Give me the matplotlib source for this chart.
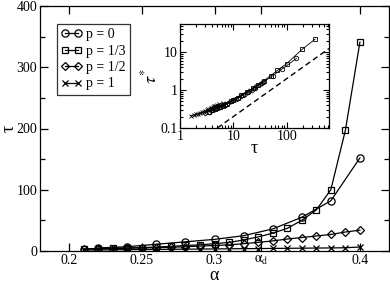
import matplotlib
matplotlib.use("Agg")
import matplotlib.pyplot as plt
from matplotlib.ticker import FixedLocator, MultipleLocator, LogLocator, NullFormatter

plt.rcParams['font.family'] = ['Liberation Serif', 'DejaVu Serif']
plt.rcParams['mathtext.fontset'] = 'stix'

# ---- main data ----
alpha_all = [0.21, 0.22, 0.23, 0.24, 0.25, 0.26, 0.27, 0.28, 0.29, 0.30,
             0.31, 0.32, 0.33, 0.34, 0.35, 0.36, 0.37, 0.38, 0.39, 0.40]
alpha_even = [0.22, 0.24, 0.26, 0.28, 0.30, 0.32, 0.34, 0.36, 0.38, 0.40]

tau_p0 = [5, 7, 11, 15, 19, 25, 36, 55, 82, 152]
tau_p13 = [3.5, 4, 4.5, 5, 5.5, 6.5, 7.5, 9, 10, 12, 14, 18, 23, 29, 37, 50, 67, 100, 197, 341]
tau_p12 = [3, 3.5, 4, 4.5, 5, 5.5, 6, 7, 8, 9, 10, 12, 14, 16.5, 19.5, 22, 24.5, 27, 31, 34]
tau_p1 = [1.6, 1.8, 2.0, 2.2, 2.4, 2.6, 2.8, 3.0, 3.2, 3.4, 3.6, 3.8, 4.0, 4.2, 4.4, 4.6, 4.8, 5.0, 5.3, 6.5]

# ---- inset data (tau* vs tau) ----
tstar_p0 = [0.33, 0.40, 0.58, 0.75, 0.9, 1.15, 1.6, 2.4, 3.6, 6.8]
tstar_p13 = [0.27, 0.29, 0.31, 0.33, 0.35, 0.39, 0.43, 0.5, 0.55, 0.63, 0.72, 0.88, 1.1, 1.35, 1.75, 2.4, 3.3, 5.0, 12.0, 22.0]
tstar_p12 = [0.25, 0.27, 0.29, 0.31, 0.33, 0.35, 0.37, 0.41, 0.45, 0.5, 0.54, 0.62, 0.71, 0.81, 0.93, 1.03, 1.13, 1.25, 1.42, 1.55]
tstar_p1 = [0.21, 0.22, 0.23, 0.24, 0.25, 0.26, 0.27, 0.28, 0.295, 0.31, 0.32, 0.33, 0.345, 0.36, 0.37, 0.38, 0.39, 0.40, 0.42, 0.45]
dash_tau = [5.0, 620.0]
dash_tstar = [0.1, 12.4]

labels = ['p = 0', 'p = 1/3', 'p = 1/2', 'p = 1']
xticks = [0.2, 0.25, 0.3, 0.332, 0.4]
xticklabels = ['0.2', '0.25', '0.3', r'$\mathrm{\alpha_d}$', '0.4']

W, H = 390, 283
fig = plt.figure(figsize=(W / 100, H / 100), dpi=100)

def ax_rect(l, t, r, b):
    return [l / W, 1 - b / H, (r - l) / W, (b - t) / H]

ax = fig.add_axes(ax_rect(40, 6, 389, 251))
lw = 0.9
mk = dict(markerfacecolor='none', markeredgecolor='black', color='black', linewidth=lw, markeredgewidth=0.9)
ax.plot(alpha_even, tau_p0, marker='o', markersize=5.2, label=labels[0], **mk)
ax.plot(alpha_all, tau_p13, marker='s', markersize=4.6, label=labels[1], **mk)
ax.plot(alpha_all, tau_p12, marker='D', markersize=4.0, label=labels[2], **mk)
ax.plot(alpha_all, tau_p1, marker='x', markersize=4.0, label=labels[3], **mk)

ax.set_xlim(0.18, 0.42)
ax.set_ylim(0, 400)
ax.xaxis.set_major_locator(FixedLocator(xticks))
ax.set_xticklabels(xticklabels)
ax.yaxis.set_major_locator(MultipleLocator(100))
ax.yaxis.set_minor_locator(MultipleLocator(50))
ax.tick_params(which='both', direction='in', top=True, right=True, labelsize=10, width=0.9)
ax.tick_params(which='major', length=6, pad=2)
ax.tick_params(which='minor', length=3.5)
for s in ax.spines.values():
    s.set_linewidth(0.9)
ax.set_xlabel('α', fontsize=13, labelpad=0)
ax.set_ylabel('τ', fontsize=13, va='center')
ax.yaxis.set_label_coords(-0.088, 0.5)

leg = ax.legend(loc='upper left', bbox_to_anchor=(0.049, 0.927), borderaxespad=0,
                numpoints=2, handlelength=1.5, handletextpad=0.3, labelspacing=0.25,
                fontsize=10, frameon=True, fancybox=False, borderpad=0.3)
leg.get_frame().set_edgecolor('black')
leg.get_frame().set_linewidth(0.9)

# ---- inset ----
ins = fig.add_axes(ax_rect(180, 24, 329, 128))
mi = dict(markerfacecolor='none', markeredgecolor='black', color='black', linewidth=0.6, markeredgewidth=0.6)
ins.plot(tau_p0, tstar_p0, marker='o', markersize=3.2, **mi)
ins.plot(tau_p13, tstar_p13, marker='s', markersize=2.8, **mi)
ins.plot(tau_p12, tstar_p12, marker='D', markersize=2.6, **mi)
ins.plot(tau_p1, tstar_p1, marker='x', markersize=2.8, **mi)
ins.plot(dash_tau, dash_tstar, color='black', linestyle=(0, (4, 2.5)), linewidth=1.0)
ins.set_xscale('log')
ins.set_yscale('log')
ins.set_xlim(1, 620)
ins.set_ylim(0.1, 55)
ins.set_xticks([1, 10, 100])
ins.set_xticklabels(['1', '10', '100'])
ins.set_yticks([0.1, 1, 10])
ins.set_yticklabels(['0.1', '1', '10'])
ins.xaxis.set_minor_locator(LogLocator(base=10, subs=range(2, 10)))
ins.yaxis.set_minor_locator(LogLocator(base=10, subs=range(2, 10)))
ins.xaxis.set_minor_formatter(NullFormatter())
ins.yaxis.set_minor_formatter(NullFormatter())
ins.tick_params(which='both', direction='in', top=True, right=True, labelsize=10, width=0.8)
ins.tick_params(which='major', length=4, pad=1.5)
ins.tick_params(which='minor', length=2)
for s in ins.spines.values():
    s.set_linewidth(0.9)
ins.set_xlabel('τ', fontsize=13, labelpad=-2)
ins.set_ylabel(r'$\tau^{*}$', fontsize=13, labelpad=0)

fig.savefig('out.png', dpi=100)
